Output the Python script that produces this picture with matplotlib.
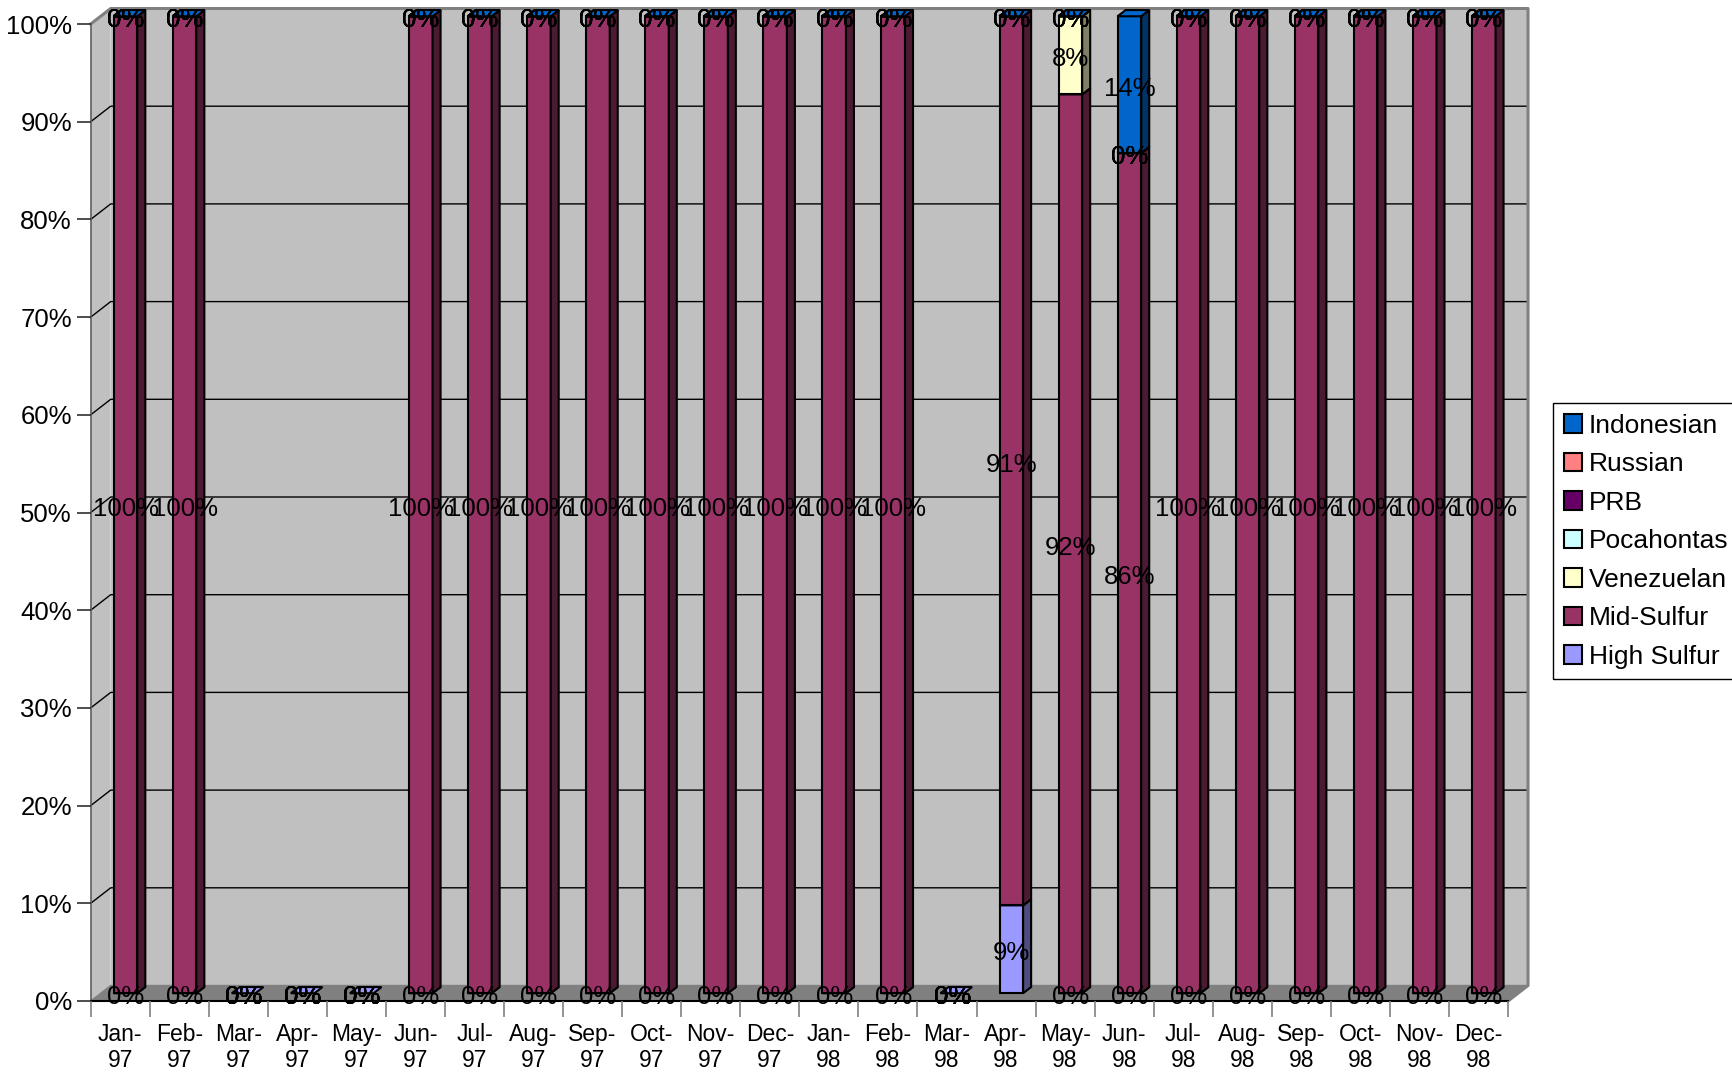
import matplotlib
matplotlib.use('Agg')
import matplotlib.pyplot as plt
from matplotlib.patches import Polygon, Patch
import numpy as np

plt.rcParams['font.family'] = ['Liberation Sans', 'DejaVu Sans']

# ---- data (percent of each month's total) ----
months = ['Jan-\n97', 'Feb-\n97', 'Mar-\n97', 'Apr-\n97', 'May-\n97', 'Jun-\n97',
          'Jul-\n97', 'Aug-\n97', 'Sep-\n97', 'Oct-\n97', 'Nov-\n97', 'Dec-\n97',
          'Jan-\n98', 'Feb-\n98', 'Mar-\n98', 'Apr-\n98', 'May-\n98', 'Jun-\n98',
          'Jul-\n98', 'Aug-\n98', 'Sep-\n98', 'Oct-\n98', 'Nov-\n98', 'Dec-\n98']
high_sulfur = [0, 0, 0, 0, 0, 0, 0, 0, 0, 0, 0, 0, 0, 0, 0, 9, 0, 0, 0, 0, 0, 0, 0, 0]
mid_sulfur = [100, 100, 0, 0, 0, 100, 100, 100, 100, 100, 100, 100,
              100, 100, 0, 91, 92, 86, 100, 100, 100, 100, 100, 100]
venezuelan = [0, 0, 0, 0, 0, 0, 0, 0, 0, 0, 0, 0, 0, 0, 0, 0, 8, 0, 0, 0, 0, 0, 0, 0]
pocahontas = [0] * 24
prb = [0] * 24
russian = [0] * 24
indonesian = [0, 0, 0, 0, 0, 0, 0, 0, 0, 0, 0, 0, 0, 0, 0, 0, 0, 14, 0, 0, 0, 0, 0, 0]

# stacking order bottom -> top
series = [('High Sulfur', high_sulfur, '#9999FF'),
          ('Mid-Sulfur', mid_sulfur, '#993366'),
          ('Venezuelan', venezuelan, '#FFFFCC'),
          ('Pocahontas', pocahontas, '#CCFFFF'),
          ('PRB', prb, '#660066'),
          ('Russian', russian, '#FF8080'),
          ('Indonesian', indonesian, '#0066CC')]

FS = 18.5


def darker(c, f=0.5):
    rgb = np.array(matplotlib.colors.to_rgb(c))
    return tuple(rgb * f)


W, H = 1733, 1078
fig = plt.figure(figsize=(W / 100, H / 100), dpi=100)
left_px, right_px, top_px, bot_px = 90.7, 1508, 24, 1001
ax = fig.add_axes([left_px / W, 1 - bot_px / H, (right_px - left_px) / W, (bot_px - top_px) / H])
n = len(months)
ax.set_xlim(0, n)
ax.set_ylim(0, 100)
ax.patch.set_visible(False)

# depth vector (data units)
px_x = (right_px - left_px) / n
px_y = (bot_px - top_px) / 100
dx, dy = 20 / px_x, 15.5 / px_y

# walls and floor
side_wall = Polygon([(0, 0), (0, 100), (dx, 100 + dy), (dx, dy)], closed=True,
                    fc='#C0C0C0', ec='none', zorder=0.2, clip_on=False)
back_wall = Polygon([(dx, dy), (n + dx, dy), (n + dx, 100 + dy), (dx, 100 + dy)], closed=True,
                    fc='#C0C0C0', ec='none', zorder=0.2, clip_on=False)
floor = Polygon([(0, 0), (n, 0), (n + dx, dy), (dx, dy)], closed=True,
                fc='#808080', ec='#808080', lw=1, zorder=0.3, clip_on=False)
for p in (side_wall, back_wall, floor):
    ax.add_patch(p)

for v in range(10, 100, 10):
    ax.plot([0, dx, n + dx], [v, v + dy, v + dy], color='black', lw=1,
            zorder=0.4, clip_on=False)
# wall borders
ax.plot([0, dx, n + dx, n + dx, n], [100, 100 + dy, 100 + dy, dy, 0],
        color='#808080', lw=2.2, zorder=0.45, clip_on=False)

# bars
f_front, f_back = 0.5, 0.9
x0, x1 = 0.22, 0.62
for i in range(n):
    xl, xr = i + x0, i + x1
    fx, fy = f_front * dx, f_front * dy
    bx, by = f_back * dx, f_back * dy
    total = sum(s[1][i] for s in series)
    if total == 0:
        top = Polygon([(xl + fx, fy), (xr + fx, fy), (xr + bx, by), (xl + bx, by)],
                      closed=True, fc=series[0][2], ec='black', lw=1.5, zorder=2,
                      clip_on=False)
        ax.add_patch(top)
        for name, vals, col in series:
            ax.text((xl + xr) / 2 + fx, fy - 0.4, '0%', ha='center', va='center',
                    fontsize=FS, zorder=6, clip_on=False)
        continue
    b = 0
    for name, vals, col in series:
        v = vals[i]
        t = b + v
        if v > 0:
            front = Polygon([(xl + fx, b + fy), (xr + fx, b + fy), (xr + fx, t + fy), (xl + fx, t + fy)],
                            closed=True, fc=col, ec='black', lw=1.5, zorder=2, clip_on=False)
            side = Polygon([(xr + fx, b + fy), (xr + bx, b + by), (xr + bx, t + by), (xr + fx, t + fy)],
                           closed=True, fc=darker(col), ec='black', lw=1.5, zorder=2, clip_on=False)
            ax.add_patch(front)
            ax.add_patch(side)
        top = Polygon([(xl + fx, t + fy), (xr + fx, t + fy), (xr + bx, t + by), (xl + bx, t + by)],
                      closed=True, fc=col, ec='black', lw=1.5, zorder=2, clip_on=False)
        ax.add_patch(top)
        pct = round(v / total * 100)
        ax.text((xl + xr) / 2 + fx, (b + t) / 2 + fy - 0.4, f'{pct}%', ha='center', va='center',
                fontsize=FS, zorder=6, clip_on=False)
        b = t

# axes
for s in ('top', 'right'):
    ax.spines[s].set_visible(False)
ax.spines['left'].set_color('#606060')
ax.spines['left'].set_linewidth(1.2)
ax.spines['bottom'].set_color('black')
ax.spines['bottom'].set_linewidth(1.5)
ax.spines['left'].set_zorder(0.5)
ax.spines['bottom'].set_zorder(0.5)

ax.set_yticks(np.arange(0, 101, 10))
ax.set_yticklabels([f'{v}%' for v in range(0, 101, 10)])
ax.tick_params(axis='y', length=10, width=1.2, pad=3.5, labelsize=FS, color='#303030')

ax.set_xticks(np.arange(n + 1))
ax.set_xticklabels([''] * (n + 1))
ax.tick_params(axis='x', which='major', length=11.5, width=1.2, color='#808080')
ax.set_xticks(np.arange(n) + 0.5, minor=True)
ax.set_xticklabels(months, minor=True)
ax.tick_params(axis='x', which='minor', length=0, pad=15.5, labelsize=16.5)
for lab in ax.get_xticklabels(minor=True):
    lab.set_linespacing(1.2)

# legend (top series first)
handles = [Patch(facecolor=c, edgecolor='black', lw=1.5) for _, _, c in series[::-1]]
labels = [nm for nm, _, _ in series[::-1]]
leg = fig.legend(handles, labels, loc='upper left', bbox_to_anchor=(1553 / W, 1 - 403 / H),
                 frameon=True, fancybox=False, edgecolor='black', framealpha=1,
                 fontsize=19, handlelength=0.7, handleheight=0.7, handletextpad=0.25,
                 labelspacing=0.55, borderpad=0.4, borderaxespad=0)
leg.get_frame().set_linewidth(1)

fig.savefig('out.png', dpi=100)
